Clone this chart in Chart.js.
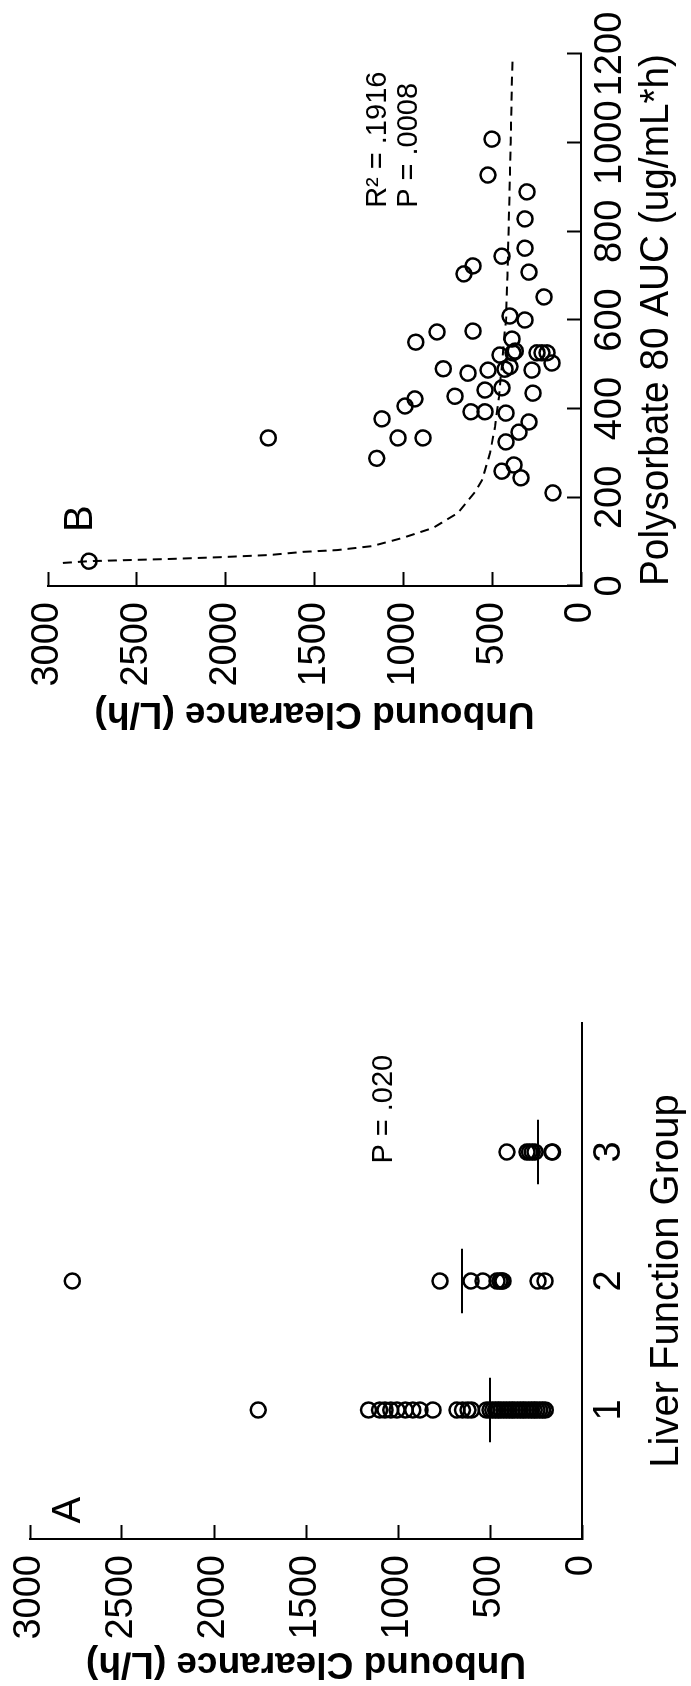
<!DOCTYPE html>
<html>
<head>
<meta charset="utf-8">
<script src="https://cdn.jsdelivr.net/npm/chart.js@4.4.1/dist/chart.umd.min.js"></script>
<style>
  body { margin: 0; background: #fff; overflow: hidden; }
  #fig { position: absolute; left: 0; top: 0; width: 1686px; height: 691px;
         transform-origin: 0 0; transform: translate(0, 1686px) rotate(-90deg); }
  #fig canvas { position: absolute; top: 0; }
</style>
</head>
<body>
<div id="fig">
  <canvas id="chartA" width="843" height="691" style="left:0"></canvas>
  <canvas id="chartB" width="843" height="691" style="left:843px"></canvas>
</div>
<script>
// panel A : clearance by liver function group
var groups = [1, 2, 3];
var group1 = [1760, 1160, 1100, 1070, 1040, 1005, 960, 920, 880, 810, 680, 650, 620, 600,
              520, 500, 485, 470, 455, 440, 425, 410, 395, 380, 365, 350, 335, 320, 305,
              290, 275, 260, 245, 230, 215, 200];
var group2 = [2770, 772, 603, 538, 462, 446, 435, 429, 239, 201];
var group3 = [408, 299, 285, 270, 255, 165, 160];
var groupLine = [500, 652, 239];

// panel B : clearance vs polysorbate 80 AUC
var aucValues = [56, 334, 288, 377, 334, 406, 422, 550, 334, 573, 490, 428, 704, 722, 575,
                 480, 393, 393, 442, 487, 927, 1008, 744, 259, 447, 521, 325, 390, 489, 609,
                 557, 526, 273, 347, 244, 600, 762, 828, 889, 708, 370, 435, 487, 526, 526,
                 526, 652, 503, 210, 495, 530];
var clValues = [2769, 1760, 1150, 1120, 1030, 990, 935, 930, 889, 810, 775, 709, 659, 608, 608,
                636, 619, 540, 540, 523, 524, 501, 445, 445, 445, 456, 422, 422, 428, 400,
                388, 383, 377, 349, 338, 315, 315, 315, 304, 293, 293, 270, 276, 248, 220,
                191, 208, 163, 158, 400, 370];
var fitAuc = [52, 56, 59, 61, 65, 70, 77, 81, 90, 108, 131, 165, 212, 239, 300, 359, 426,
              500, 562, 600, 700, 893, 1000, 1186];
var fitCl = [2916, 2770, 2500, 2313, 2032, 1750, 1565, 1373, 1176, 1008, 833, 692, 597, 557,
             512, 484, 462, 445, 432, 422, 414, 402, 396, 386];

var clMax = 3000, clStep = 500;
var aucMax = 1200, aucStep = 200;
var groupMax = 4, lineHalf = 0.25;

var fontName = "'Liberation Sans', Arial, sans-serif";

function toPoints(xs, ys) {
  return xs.map(function (x, i) { return { x: x, y: ys[i] }; });
}

function plainNumber(v) { return String(v); }

function noteLayer(items) {
  return {
    id: 'notes',
    afterDatasetsDraw: function (chart) {
      var ctx = chart.ctx;
      items.forEach(function (n) {
        ctx.save();
        ctx.font = n.font;
        ctx.fillStyle = '#000';
        ctx.textBaseline = 'alphabetic';
        ctx.fillText(n.text, chart.scales.x.getPixelForValue(n.x), chart.scales.y.getPixelForValue(n.y));
        ctx.restore();
      });
    }
  };
}

function fixWidth(w) {
  return function (s) { s.width = w; s.paddingTop = 0; s.paddingBottom = 0; s.paddingLeft = 0; s.paddingRight = 0; };
}
function fixHeight(h) {
  return function (s) { s.height = h; s.paddingTop = 0; s.paddingBottom = 0; s.paddingLeft = 0; s.paddingRight = 0; };
}

function clAxis(width, titlePad) {
  return {
    type: 'linear', position: 'left', min: 0, max: clMax,
    afterFit: fixWidth(width),
    border: { color: '#000', width: 2 },
    grid: { drawOnChartArea: false, drawTicks: true, tickLength: -14, tickWidth: 2, tickColor: '#000' },
    ticks: { stepSize: clStep, color: '#000', padding: 30, callback: plainNumber,
             font: { family: fontName, size: 38 } },
    title: { display: true, text: 'Unbound Clearance (L/h)', color: '#000', padding: { top: titlePad, bottom: 0 },
             font: { family: fontName, size: 37, weight: 'bold' } }
  };
}

var circleSet = {
  pointStyle: 'circle', pointRadius: 7.5, pointBorderWidth: 2.5,
  borderColor: '#000', backgroundColor: 'rgba(0,0,0,0)', showLine: false
};

var setsA = [group1, group2, group3].map(function (vals, gi) {
  return Object.assign({ data: vals.map(function (v) { return { x: groups[gi], y: v }; }) }, circleSet);
});
groupLine.forEach(function (m, gi) {
  setsA.push({
    data: [{ x: groups[gi] - lineHalf, y: m }, { x: groups[gi] + lineHalf, y: m }],
    showLine: true, borderColor: '#000', borderWidth: 2, pointRadius: 0
  });
});

new Chart(document.getElementById('chartA'), {
  type: 'scatter',
  data: { datasets: setsA },
  options: {
    responsive: false, animation: false, devicePixelRatio: 1,
    layout: { padding: { top: 30, right: 180, bottom: 0, left: 0 } },
    plugins: { legend: { display: false }, tooltip: { enabled: false } },
    scales: {
      x: {
        type: 'linear', position: 'bottom', min: 0, max: groupMax,
        afterFit: fixHeight(109),
        afterBuildTicks: function (s) { s.ticks = groups.map(function (g) { return { value: g }; }); },
        border: { color: '#000', width: 2 },
        grid: { drawOnChartArea: false, drawTicks: false },
        ticks: { color: '#000', padding: 5, autoSkip: false, maxRotation: 0, callback: plainNumber,
                 font: { family: fontName, size: 38 } },
        title: { display: true, text: 'Liver Function Group', color: '#000', padding: { top: 0, bottom: 0 },
                 font: { family: fontName, size: 40 } }
      },
      y: clAxis(147, 1)
    }
  },
  plugins: [noteLayer([
    { text: 'A', x: 0.12, y: 2728, font: '40px ' + fontName },
    { text: 'P = .020', x: 2.91, y: 1033, font: '29px ' + fontName }
  ])]
});

new Chart(document.getElementById('chartB'), {
  type: 'scatter',
  data: {
    datasets: [
      Object.assign({ data: toPoints(aucValues, clValues) }, circleSet),
      {
        data: toPoints(fitAuc, fitCl), showLine: true, borderColor: '#000', borderWidth: 2,
        borderDash: [9, 6], pointRadius: 0, tension: 0
      }
    ]
  },
  options: {
    responsive: false, animation: false, devicePixelRatio: 1,
    layout: { padding: { top: 48, right: 54, bottom: 0, left: 108 } },
    plugins: { legend: { display: false }, tooltip: { enabled: false } },
    scales: {
      x: {
        type: 'linear', position: 'bottom', min: 0, max: aucMax,
        afterFit: fixHeight(110),
        border: { color: '#000', width: 2 },
        grid: { drawOnChartArea: false, drawTicks: true, tickLength: -14, tickWidth: 2, tickColor: '#000' },
        ticks: { stepSize: aucStep, color: '#000', padding: 21, autoSkip: false, maxRotation: 0,
                 callback: plainNumber, font: { family: fontName, size: 38 } },
        title: { display: true, text: 'Polysorbate 80 AUC (ug/mL*h)', color: '#000', padding: { top: 0, bottom: 10 },
                 font: { family: fontName, size: 40 } }
      },
      y: clAxis(149, 0)
    }
  },
  plugins: [noteLayer([
    { text: 'B', x: 122, y: 2753, font: '40px ' + fontName },
    { text: 'R\u00b2 = .1916', x: 853, y: 1098, font: '29px ' + fontName },
    { text: 'P = .0008', x: 853, y: 923, font: '29px ' + fontName }
  ])]
});
</script>
</body>
</html>
